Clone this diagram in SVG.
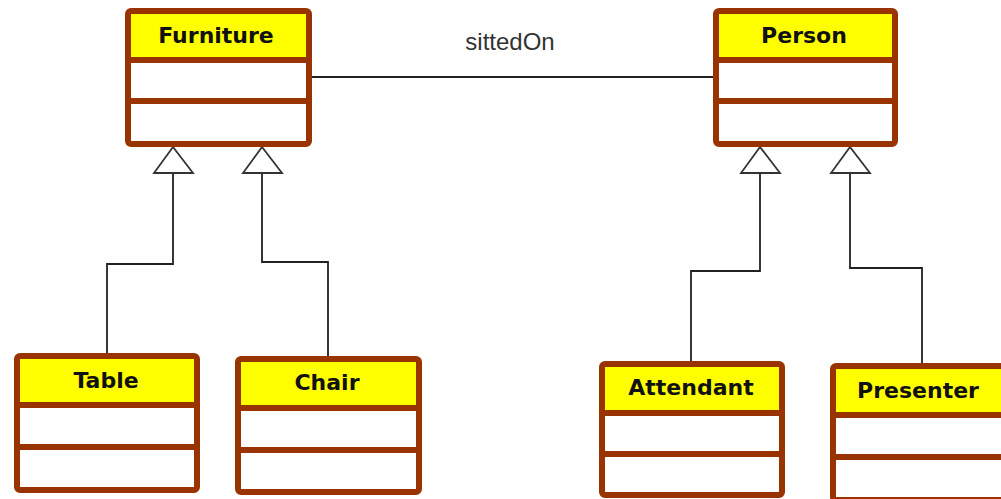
<svg xmlns="http://www.w3.org/2000/svg" width="1001" height="499" viewBox="0 0 1001 499">
  <style>
    .box { fill: #ffffff; stroke: #993300; stroke-width: 6; }
    .head { fill: #ffff00; }
    .div { stroke: #993300; stroke-width: 6; }
    .name { font-family: "Comic Sans MS", "DejaVu Sans", sans-serif; font-weight: bold; font-size: 22px; fill: #111111; text-anchor: middle; }
    .conn { fill: none; stroke: #222222; stroke-width: 1.8; }
    .gen { fill: #ffffff; stroke: #333333; stroke-width: 1.8; }
    .lbl { font-family: "Liberation Sans", Arial, sans-serif; font-size: 24px; fill: #333333; text-anchor: middle; }
  </style>

  <!-- associations and generalisations -->
  <g id="connectors">
    <line class="conn" x1="312" y1="77" x2="713" y2="77"/>
    <text class="lbl" x="510" y="50">sittedOn</text>

    <polyline class="conn" points="173,173 173,264 107,264 107,353"/>
    <polygon class="gen" points="173,147 154,173 193,173"/>

    <polyline class="conn" points="262,173 262,262 328,262 328,356"/>
    <polygon class="gen" points="262,147 243,173 282,173"/>

    <polyline class="conn" points="760,173 760,271 691,271 691,361"/>
    <polygon class="gen" points="760,147 741,173 780,173"/>

    <polyline class="conn" points="850,173 850,268 922,268 922,363"/>
    <polygon class="gen" points="850,147 831,173 870,173"/>
  </g>

  <g id="furniture">
    <rect class="box" x="128" y="11" width="181" height="133" rx="3"/>
    <rect class="head" x="131" y="14" width="175" height="46"/>
    <line class="div" x1="128" y1="60" x2="309" y2="60"/>
    <line class="div" x1="128" y1="101" x2="309" y2="101"/>
    <text class="name" x="216" y="43">Furniture</text>
  </g>

  <g id="person">
    <rect class="box" x="716" y="11" width="179" height="133" rx="3"/>
    <rect class="head" x="719" y="14" width="173" height="46"/>
    <line class="div" x1="716" y1="60" x2="895" y2="60"/>
    <line class="div" x1="716" y1="101" x2="895" y2="101"/>
    <text class="name" x="804" y="43">Person</text>
  </g>

  <g id="table">
    <rect class="box" x="17" y="356" width="180" height="134" rx="3"/>
    <rect class="head" x="20" y="359" width="174" height="46"/>
    <line class="div" x1="17" y1="405" x2="197" y2="405"/>
    <line class="div" x1="17" y1="447" x2="197" y2="447"/>
    <text class="name" x="106" y="388">Table</text>
  </g>

  <g id="chair">
    <rect class="box" x="238" y="359" width="181" height="133" rx="3"/>
    <rect class="head" x="241" y="362" width="175" height="46"/>
    <line class="div" x1="238" y1="408" x2="419" y2="408"/>
    <line class="div" x1="238" y1="450" x2="419" y2="450"/>
    <text class="name" x="327" y="390">Chair</text>
  </g>

  <g id="attendant">
    <rect class="box" x="602" y="364" width="180" height="131" rx="3"/>
    <rect class="head" x="605" y="367" width="174" height="46"/>
    <line class="div" x1="602" y1="413" x2="782" y2="413"/>
    <line class="div" x1="602" y1="454" x2="782" y2="454"/>
    <text class="name" x="691" y="395">Attendant</text>
  </g>

  <g id="presenter">
    <rect class="box" x="833" y="366" width="180" height="134" rx="3"/>
    <rect class="head" x="836" y="369" width="174" height="46"/>
    <line class="div" x1="833" y1="415" x2="1013" y2="415"/>
    <line class="div" x1="833" y1="457" x2="1013" y2="457"/>
    <text class="name" x="918" y="398">Presenter</text>
  </g>
</svg>
